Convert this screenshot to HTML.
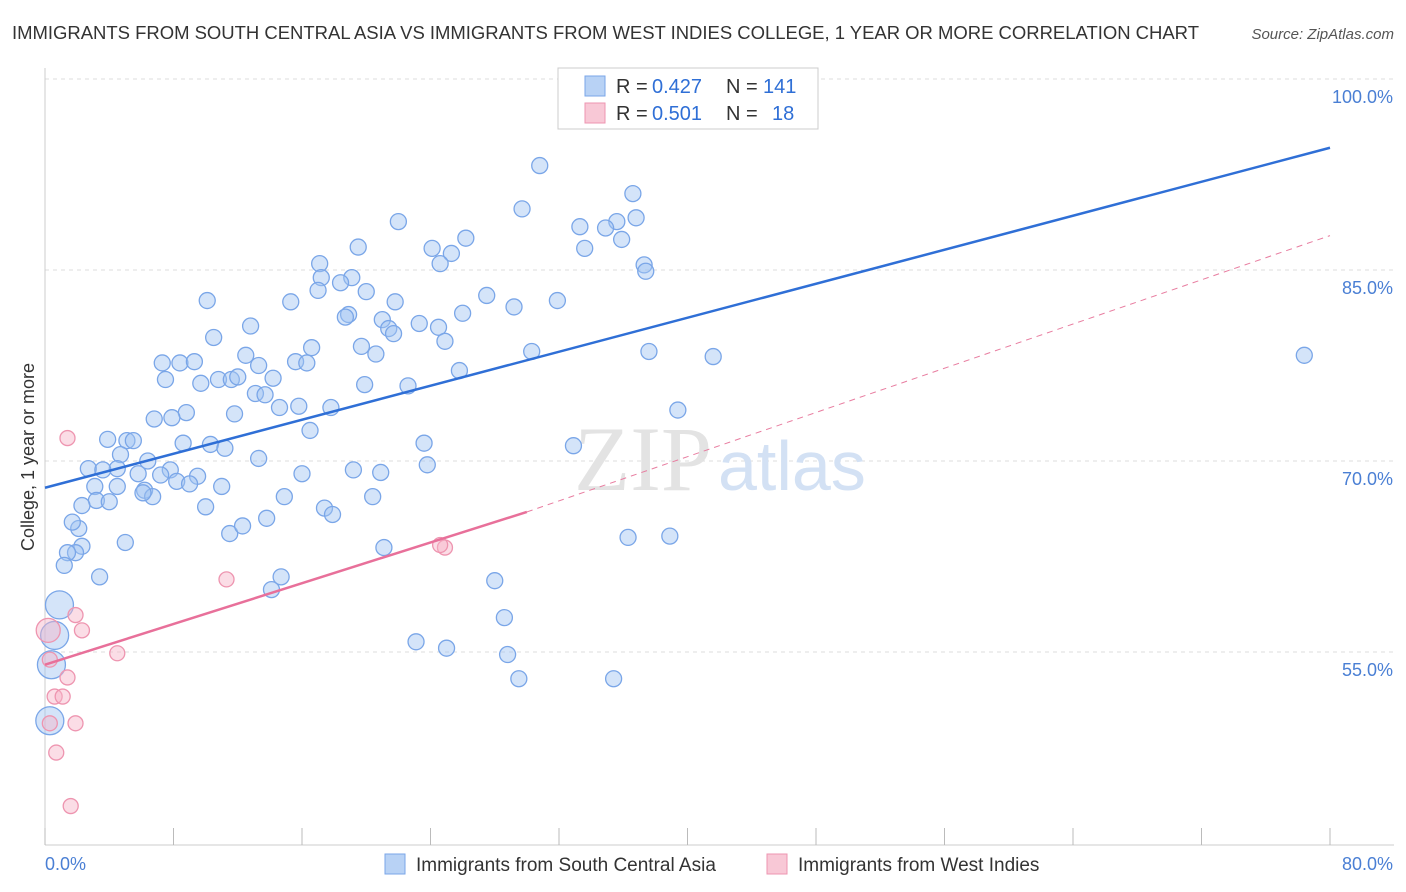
<!DOCTYPE html>
<html><head><meta charset="utf-8"><style>
body{margin:0;background:#fff;font-family:"Liberation Sans",sans-serif;}
svg{display:block}
</style></head><body>
<svg id="chart" width="1406" height="892" xmlns="http://www.w3.org/2000/svg">
<text x="12" y="39" font-size="18.5" fill="#333" textLength="1187">IMMIGRANTS FROM SOUTH CENTRAL ASIA VS IMMIGRANTS FROM WEST INDIES COLLEGE, 1 YEAR OR MORE CORRELATION CHART</text>
<text x="1394" y="39" font-size="15" fill="#555" font-style="italic" text-anchor="end">Source: ZipAtlas.com</text>
<g id="grid"></g>
<text x="712" y="490" font-size="92" fill="#e3e3e3" text-anchor="end" font-family="Liberation Serif">ZIP</text>
<text x="718" y="490" font-size="70" fill="#d3e1f4">atlas</text>
<g id="marks"></g>
<text transform="translate(34,457) rotate(-90)" font-size="18" fill="#333" text-anchor="middle">College, 1 year or more</text>
<text x="45" y="870" font-size="18" fill="#4a7fd4">0.0%</text>
<text x="1393" y="870" font-size="18" fill="#4a7fd4" text-anchor="end">80.0%</text>
<g>
<rect x="558" y="68" width="260" height="61" fill="#fff" stroke="#ccc"/>
<rect x="585" y="76" width="20" height="20" fill="#b8d2f5" stroke="#7aa6e8"/>
<text x="616" y="93" font-size="20" fill="#333">R =</text>
<text x="652" y="93" font-size="20" fill="#2f6fd6">0.427</text>
<text x="726" y="93" font-size="20" fill="#333">N =</text>
<text x="763" y="93" font-size="20" fill="#2f6fd6">141</text>
<rect x="585" y="103" width="20" height="20" fill="#f8c8d6" stroke="#ee95b0"/>
<text x="616" y="120" font-size="20" fill="#333">R =</text>
<text x="652" y="120" font-size="20" fill="#2f6fd6">0.501</text>
<text x="726" y="120" font-size="20" fill="#333">N =</text>
<text x="772" y="120" font-size="20" fill="#2f6fd6">18</text>
</g>
<g>
<rect x="385" y="854" width="20" height="20" fill="#b8d2f5" stroke="#7aa6e8"/>
<text x="416" y="871" font-size="19" fill="#333">Immigrants from South Central Asia</text>
<rect x="767" y="854" width="20" height="20" fill="#f8c8d6" stroke="#ee95b0"/>
<text x="798" y="871" font-size="19" fill="#333">Immigrants from West Indies</text>
</g>
</svg>
<script>
const yTicks=[100,85,70,55];
const yTickLabels=["100.0%","85.0%","70.0%","55.0%"];
const blueX=[30.8,36.6,29.7,22.0,36.8,33.3,35.6,34.9,35.9,26.2,24.1,19.5,25.3,33.6,24.6,17.1,37.3,37.4,19.1,17.2,18.4,17.0,20.0,27.5,31.9,10.1,15.3,21.8,29.2,26.0,18.9,18.7,21.0,23.3,21.4,12.8,21.7,24.5,10.5,24.9,19.7,16.6,20.6,30.3,37.6,41.6,78.4,12.5,7.3,8.4,9.3,15.6,16.3,13.3,25.8,7.5,9.7,10.8,11.6,12.0,14.2,19.9,22.6,13.1,13.7,14.6,15.8,17.8,8.8,11.8,6.8,7.9,16.5,39.4,3.9,5.1,5.5,8.6,10.3,11.2,23.6,32.9,13.3,6.4,4.7,4.5,2.7,3.6,5.8,7.8,7.2,8.2,9.5,16.0,19.2,20.9,23.8,3.1,4.5,6.2,6.7,9.0,11.0,6.1,3.2,4.0,2.3,10.0,14.9,17.4,17.9,20.4,2.1,1.7,11.5,12.3,13.8,5.0,2.3,1.9,1.4,1.2,3.4,21.1,36.3,38.9,14.7,14.1,28.0,28.6,23.1,25.0,28.8,29.5,35.4,0.9,0.6,0.4,0.3];
const blueY=[93.2,91.0,89.8,88.8,89.1,88.4,88.8,88.3,87.4,87.5,86.7,86.8,86.3,86.7,85.5,85.5,85.4,84.9,84.4,84.4,84.0,83.4,83.3,83.0,82.6,82.6,82.5,82.5,82.1,81.6,81.5,81.3,81.1,80.8,80.4,80.6,80.0,80.5,79.7,79.4,79.0,78.9,78.4,78.6,78.6,78.2,78.3,78.3,77.7,77.7,77.8,77.8,77.7,77.5,77.1,76.4,76.1,76.4,76.4,76.6,76.5,76.0,75.9,75.3,75.2,74.2,74.3,74.2,73.8,73.7,73.3,73.4,72.4,74.0,71.7,71.6,71.6,71.4,71.3,71.0,71.4,71.2,70.2,70.0,70.5,69.4,69.4,69.3,69.0,69.3,68.9,68.4,68.8,69.0,69.3,69.1,69.7,68.0,68.0,67.7,67.2,68.2,68.0,67.5,66.9,66.8,66.5,66.4,67.2,66.3,65.8,67.2,64.7,65.2,64.3,64.9,65.5,63.6,63.3,62.8,62.8,61.8,60.9,63.2,64.0,64.1,60.9,59.9,60.6,57.7,55.8,55.3,54.8,52.9,52.9,58.7,56.3,54.0,49.6];
const blueBigCount=4;
const pinkX=[1.4,11.3,24.9,24.6,1.9,2.3,4.5,0.3,1.4,0.6,1.1,1.9,0.3,0.7,1.6,0.2];
const pinkY=[71.8,60.7,63.2,63.4,57.9,56.7,54.9,54.4,53.0,51.5,51.5,49.4,49.4,47.1,42.9,56.7];
const pinkBig=[15];
const blueTrend=[67.9,94.6];
const pinkTrend=[54.0,66.0,87.7];
const pinkSolidEnd=30;

const X0=45,X1=1330,XMAX=80;
const xs=v=>X0+v/XMAX*(X1-X0);
const ys=v=>79+(100-v)*12.733;
const NS="http://www.w3.org/2000/svg";
function mk(tag,attrs,parent){const e=document.createElementNS(NS,tag);for(const k in attrs)e.setAttribute(k,attrs[k]);parent.appendChild(e);return e;}
const grid=document.getElementById('grid'),marks=document.getElementById('marks');
yTicks.forEach((t,i)=>{
 const l=mk('line',{x1:X0,x2:1394,y1:ys(t),y2:ys(t),stroke:'#ddd','stroke-dasharray':'4,4'},grid);
 
 
 const tx=mk('text',{x:1393,y:ys(t)+24,'font-size':18,fill:'#4a7fd4','text-anchor':'end'},grid);
 tx.textContent=yTickLabels[i];
 
 
});
const ax=mk('line',{x1:X0,x2:X0,y1:68,y2:845,stroke:'#ccc'},grid);


const bx=mk('line',{x1:X0,x2:1394,y1:845,y2:845,stroke:'#ccc'},grid);


for(let i=0;i<=10;i++){
 const t=mk('line',{x1:xs(i*8),x2:xs(i*8),y1:828,y2:845,stroke:'#bbb'},grid);
 
 
}
blueX.forEach((v,i)=>{
 const big=i>=blueX.length-blueBigCount;
 const c=mk('circle',{cx:xs(v),cy:ys(blueY[i]),r:big?14:8,fill:'rgba(160,196,242,0.45)',stroke:'#7aa6e8','stroke-width':1.3},marks);
 
 
});
pinkX.forEach((v,i)=>{
 const big=pinkBig.includes(i);
 const c=mk('circle',{cx:xs(v),cy:ys(pinkY[i]),r:big?12:7.5,fill:'rgba(246,180,200,0.45)',stroke:'#ee95b0','stroke-width':1.3},marks);
 
 
});
const bl=mk('line',{x1:xs(0),y1:ys(blueTrend[0]),x2:xs(80),y2:ys(blueTrend[1]),stroke:'#2f6fd6','stroke-width':2.5},marks);


const pd=mk('line',{x1:xs(pinkSolidEnd),y1:ys(pinkTrend[1]),x2:xs(80),y2:ys(pinkTrend[2]),stroke:'#e87da0','stroke-width':1,'stroke-dasharray':'6,5'},marks);


const pl=mk('line',{x1:xs(0),y1:ys(pinkTrend[0]),x2:xs(pinkSolidEnd),y2:ys(pinkTrend[1]),stroke:'#e8709a','stroke-width':2.5},marks);


</script>
</body></html>
